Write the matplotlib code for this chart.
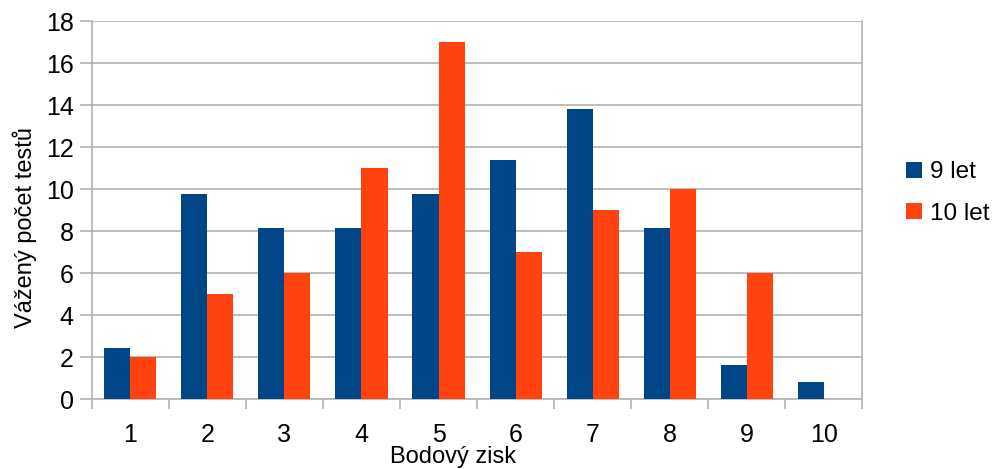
import matplotlib.pyplot as plt
import numpy as np

plt.rcParams['font.family'] = ['Liberation Sans', 'DejaVu Sans']

# data
body = ['1', '2', '3', '4', '5', '6', '7', '8', '9', '10']
let9 = [2.44, 9.76, 8.13, 8.13, 9.76, 11.38, 13.83, 8.13, 1.63, 0.81]
let10 = [2, 5, 6, 11, 17, 7, 9, 10, 6, 0]

fig = plt.figure(figsize=(9.98, 4.69), dpi=100)
ax = fig.add_axes([0.092, 0.149, 0.772, 0.806])

x = np.arange(len(body))
w = 0.338
ax.bar(x - w / 2, let9, w, color='#004586', label='9 let', zorder=3)
ax.bar(x + w / 2, let10, w, color='#ff420e', label='10 let', zorder=3)

ax.set_xlim(-0.5, len(body) - 0.5)
ax.set_ylim(0, 18)
ax.set_yticks(range(0, 19, 2))
ax.yaxis.grid(True, color='#b3b3b3', lw=1.2, zorder=0)

# category ticks at the boundaries, labels in the middle
ax.set_xticks(np.arange(-0.5, len(body), 1))
ax.set_xticklabels([])
ax.set_xticks(x, minor=True)
ax.set_xticklabels(body, minor=True)
ax.tick_params(axis='x', which='major', length=7, color='#b3b3b3', width=1.2)
ax.tick_params(axis='x', which='minor', length=0, pad=17, labelsize=18)
ax.tick_params(axis='y', length=9, color='#b3b3b3', width=1.2, labelsize=18, pad=4)

for s in ['left', 'bottom', 'right']:
    ax.spines[s].set_color('#b3b3b3')
    ax.spines[s].set_linewidth(1.2)
ax.spines['top'].set_visible(False)

ax.set_xlabel('Bodový zisk', fontsize=17)
ax.xaxis.set_label_coords(0.469, -0.125)
ax.set_ylabel('Vážený počet testů', fontsize=17, va='center')
ax.yaxis.set_label_coords(-0.087, 0.455)

ax.legend(loc='center left', bbox_to_anchor=(1.029, 0.545), frameon=False,
          fontsize=17.5, handlelength=0.65, handleheight=0.65, handletextpad=0.33,
          labelspacing=0.8)

plt.savefig('out.png', dpi=100)
plt.close()
